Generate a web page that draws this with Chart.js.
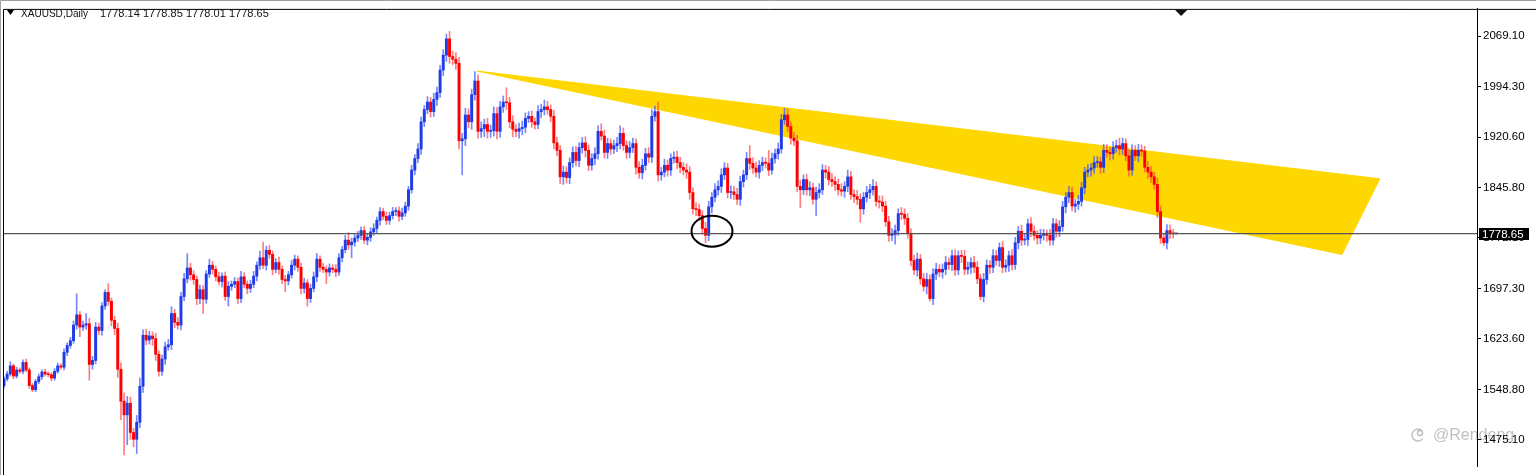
<!DOCTYPE html>
<html>
<head>
<meta charset="utf-8">
<script src="https://cdn.jsdelivr.net/npm/chart.js@4.4.0/dist/chart.umd.min.js"></script>
<style>
html, body { margin: 0; padding: 0; background: #fff; }
#wrap { width: 1536px; height: 475px; position: relative; }
</style>
</head>
<body>
<div id="wrap"><canvas id="chart"></canvas></div>
<script>
// XAUUSD daily
var symbol = 'XAUUSD,Daily';
var lastQuote = [1778.14, 1778.85, 1778.01, 1778.65];
var firstOpen = 1555;

var closes = [
  1565,1572,1584,1569,1578,1576,1589,1578,1555,1549,
  1561,1568,1575,1572,1571,1566,1576,1584,1582,1604,
  1614,1621,1644,1659,1641,1644,1646,1586,1592,1641,
  1636,1672,1692,1679,1651,1639,1579,1532,1512,1529,
  1486,1476,1501,1554,1629,1622,1628,1624,1601,1576,
  1594,1612,1615,1661,1648,1644,1686,1712,1728,1718,
  1711,1683,1696,1682,1719,1732,1726,1715,1708,1716,
  1686,1701,1704,1708,1683,1715,1704,1698,1704,1716,
  1732,1743,1732,1754,1748,1726,1736,1726,1711,1709,
  1718,1732,1741,1729,1698,1706,1683,1698,1715,1741,
  1729,1726,1722,1728,1726,1722,1743,1755,1769,1762,
  1766,1772,1776,1783,1769,1773,1781,1786,1798,1811,
  1804,1798,1805,1811,1812,1804,1809,1819,1843,1872,
  1889,1903,1943,1961,1972,1958,1976,1986,2019,2041,
  2065,2039,2035,2029,1915,1918,1953,1943,1983,2003,
  1929,1933,1939,1929,1930,1955,1929,1965,1972,1971,
  1943,1932,1929,1933,1935,1948,1951,1943,1939,1958,
  1961,1965,1961,1951,1912,1901,1862,1869,1861,1883,
  1898,1886,1905,1912,1901,1879,1889,1896,1929,1922,
  1898,1911,1903,1908,1911,1926,1908,1898,1905,1911,
  1876,1868,1879,1896,1891,1951,1958,1865,1869,1879,
  1872,1889,1891,1883,1876,1872,1869,1839,1815,1814,
  1805,1786,1776,1818,1832,1843,1848,1865,1875,1839,
  1840,1836,1829,1855,1865,1889,1882,1875,1869,1879,
  1883,1882,1872,1889,1896,1903,1946,1953,1936,1919,
  1915,1848,1843,1858,1843,1846,1829,1839,1843,1872,
  1869,1858,1855,1851,1843,1841,1848,1862,1836,1833,
  1829,1815,1832,1839,1843,1848,1826,1825,1819,1796,
  1776,1777,1783,1808,1807,1801,1779,1739,1725,1741,
  1712,1701,1711,1683,1719,1726,1722,1726,1736,1733,
  1746,1725,1746,1745,1726,1729,1736,1729,1712,1686,
  1711,1732,1729,1746,1739,1758,1729,1732,1746,1733,
  1765,1782,1769,1770,1793,1782,1776,1772,1776,1777,
  1776,1769,1793,1782,1789,1818,1832,1839,1819,1822,
  1826,1846,1869,1872,1875,1883,1884,1876,1901,1898,
  1896,1905,1908,1903,1911,1893,1872,1901,1893,1901,
  1900,1876,1869,1862,1851,1811,1772,1765,1783,1779,
  1778.14,1778.65
];

// distance from the body top to the high
var wickUp = [
  3,4,6,3,4,3,4,5,3,3,
  3,4,3,4,3,3,4,4,3,5,
  4,5,6,31,5,6,15,8,6,7,
  6,5,4,13,5,6,8,9,12,10,
  9,6,10,12,8,9,7,6,8,5,
  6,7,8,10,6,7,6,8,21,7,
  6,5,7,6,5,9,6,5,7,5,
  6,7,5,6,5,8,6,5,6,7,
  5,10,23,6,7,5,6,8,5,6,
  5,7,6,5,6,7,5,6,7,8,
  5,6,5,6,5,7,6,5,7,11,
  6,5,6,5,6,5,6,7,5,6,
  5,6,5,6,5,6,7,6,5,7,
  6,8,7,6,8,7,9,8,7,8,
  7,11,8,10,9,8,10,9,8,14,
  9,10,8,9,8,10,9,8,9,21,
  8,9,7,8,9,8,7,8,6,9,
  8,10,8,7,9,8,7,9,8,7,
  8,9,7,8,9,8,7,9,8,11,
  9,8,7,8,9,11,8,7,9,8,
  7,8,9,8,9,10,8,14,7,9,
  8,7,8,9,8,7,9,8,7,9,
  8,7,9,8,7,9,8,9,8,7,
  9,8,9,8,7,9,19,8,9,7,
  8,7,19,8,7,9,8,10,9,7,
  8,8,9,7,8,9,7,8,9,8,
  7,8,9,7,8,9,7,10,8,7,
  9,8,7,9,8,10,7,8,9,7,
  8,9,8,7,9,8,7,7,8,9,
  7,8,9,7,8,9,7,8,9,7,
  8,9,7,8,9,8,7,9,8,7,
  9,8,7,9,8,7,9,8,7,9,
  8,7,9,8,7,9,8,7,9,8,
  7,9,8,7,9,8,7,9,8,7,
  9,8,7,8,7,9,8,7,9,8,
  7,9,8,11,8,7,9,8,7,9,
  8,7,9,8,7,9,8,7,9,8,
  6,0.2
];

// distance from the body bottom to the low
var wickDown = [
  4,3,3,4,3,3,4,3,4,3,
  3,3,4,3,3,4,3,3,3,4,
  5,4,4,6,14,5,6,23,7,5,
  6,7,5,6,8,9,12,27,59,44,
  10,11,21,8,9,7,6,10,9,7,
  6,8,5,7,8,6,7,6,6,8,
  7,9,8,21,6,5,7,6,5,8,
  6,14,6,5,7,6,5,8,6,5,
  7,6,5,7,6,8,5,7,6,16,
  6,5,7,6,8,7,11,6,5,7,
  6,5,17,6,5,7,5,6,5,7,
  19,6,5,6,5,7,6,5,6,7,
  5,6,6,5,6,7,5,5,6,5,
  7,6,8,7,6,8,7,9,7,8,
  9,10,8,9,12,50,10,9,11,8,
  10,9,12,10,9,8,11,9,8,10,
  9,11,8,10,9,8,6,8,7,6,
  9,8,7,8,9,8,10,11,8,9,
  7,8,9,8,10,8,7,9,8,6,
  8,9,8,7,9,8,7,9,8,7,
  10,8,9,7,8,8,7,9,8,7,
  9,8,7,9,8,7,9,10,8,9,
  7,8,11,8,9,7,8,9,7,8,
  9,7,8,9,8,7,9,8,7,9,
  8,7,8,6,7,8,6,7,8,9,
  7,8,26,7,8,9,7,24,8,7,
  9,8,7,9,8,7,9,8,7,9,
  8,20,8,7,9,8,7,9,8,7,
  9,8,14,7,8,9,7,8,7,9,
  8,7,11,4,9,8,7,9,8,7,
  9,8,7,9,8,7,9,8,7,5,
  8,7,9,8,7,9,8,7,9,8,
  7,9,8,7,9,8,7,9,8,7,
  9,8,7,9,8,7,9,8,7,9,
  8,7,9,7,9,8,7,9,8,7,
  9,8,7,9,8,7,9,8,7,9,
  8,7,9,8,7,9,8,4,9,8,
  6,0.13
];

var priceTicks = [2069.10, 1994.30, 1920.60, 1845.80, 1772.10, 1697.30, 1623.60, 1548.80, 1475.10];
var priceRange = [1436.55, 2109.08];
var barRange = [-0.316, 466.14];

// drawn objects: triangle corners [bar, price], marked low [bar, price]
var triangleBars = [149.7, 435.4, 423.4];
var trianglePrices = [2017.7, 1859.2, 1747.8];
var markedLow = [224.05, 1782.1];
var watermark = '@Rendeng';

var opens = closes.map(function (c, i) { return i === 0 ? firstOpen : closes[i - 1]; });
var bodies = [], wicks = [], bodyColors = [], wickColors = [];
for (var i = 0; i < closes.length; i++) {
  var o = opens[i], c = closes[i];
  var up = c >= o;
  bodies.push({ x: i, y: [o, c] });
  wicks.push({ x: i, y: [Math.min(o, c) - wickDown[i], Math.max(o, c) + wickUp[i]] });
  bodyColors.push(up ? '#1f3ce6' : '#ff0000');
  wickColors.push(up ? 'rgba(70,95,255,0.75)' : 'rgba(255,70,70,0.7)');
}
var tri = [];
for (var k = 0; k < triangleBars.length; k++) tri.push({ x: triangleBars[k], y: trianglePrices[k] });
tri.push({ x: triangleBars[0], y: trianglePrices[0] });
var bidLine = [{ x: barRange[0], y: lastQuote[3] }, { x: barRange[1], y: lastQuote[3] }];

var FONT = '"Liberation Sans", Arial, sans-serif';

var decor = {
  id: 'decor',
  beforeDraw: function (chart) {
    var ctx = chart.ctx, a = chart.chartArea;
    ctx.save();
    ctx.fillStyle = '#fff';
    ctx.fillRect(0, 0, chart.width, chart.height);
    // watermark
    ctx.strokeStyle = 'rgba(150,150,150,0.6)';
    ctx.lineWidth = 1.5;
    ctx.beginPath();
    ctx.arc(a.right - 59, a.bottom - 31, 6, 0.2 * Math.PI, 1.7 * Math.PI);
    ctx.stroke();
    ctx.beginPath();
    ctx.arc(a.right - 57, a.bottom - 33, 2.5, 0, 2 * Math.PI);
    ctx.stroke();
    ctx.fillStyle = 'rgba(150,150,150,0.6)';
    ctx.font = '16px ' + FONT;
    ctx.textBaseline = 'middle';
    ctx.fillText(watermark, a.right - 44, a.bottom - 31);
    ctx.restore();
  },
  afterDatasetsDraw: function (chart) {
    var ctx = chart.ctx, xs = chart.scales.x, ys = chart.scales.y;
    ctx.save();
    ctx.strokeStyle = '#000';
    ctx.lineWidth = 2;
    ctx.beginPath();
    ctx.ellipse(xs.getPixelForValue(markedLow[0]), ys.getPixelForValue(markedLow[1]), 20.5, 15.5, 0, 0, 2 * Math.PI);
    ctx.stroke();
    ctx.restore();
  },
  afterDraw: function (chart) {
    var ctx = chart.ctx, a = chart.chartArea, xs = chart.scales.x, ys = chart.scales.y;
    ctx.save();
    // frame
    ctx.strokeStyle = '#000';
    ctx.lineWidth = 1;
    ctx.beginPath();
    ctx.moveTo(a.left + 0.5, chart.height);
    ctx.lineTo(a.left + 0.5, a.top + 0.5);
    ctx.lineTo(chart.width, a.top + 0.5);
    ctx.stroke();
    ctx.strokeStyle = '#a0a0a0';
    ctx.beginPath();
    ctx.moveTo(0.5, chart.height);
    ctx.lineTo(0.5, 0.5);
    ctx.lineTo(chart.width, 0.5);
    ctx.stroke();
    // header
    ctx.fillStyle = '#000';
    ctx.beginPath();
    ctx.moveTo(7, 10);
    ctx.lineTo(14, 10);
    ctx.lineTo(10.5, 15);
    ctx.closePath();
    ctx.fill();
    ctx.fillStyle = '#111';
    ctx.font = '11px ' + FONT;
    ctx.textBaseline = 'alphabetic';
    ctx.fillText(symbol, 21, 17, 67);
    for (var q = 0; q < lastQuote.length; q++) {
      ctx.fillText(lastQuote[q].toFixed(2), 100 + q * 43, 17);
    }
    // chart shift marker
    var sx = xs.getPixelForValue(closes.length + 0.5);
    ctx.beginPath();
    ctx.moveTo(sx - 6, a.top + 1);
    ctx.lineTo(sx + 6, a.top + 1);
    ctx.lineTo(sx, a.top + 7);
    ctx.closePath();
    ctx.fill();
    // bid price label
    var py = Math.round(ys.getPixelForValue(lastQuote[3]));
    ctx.fillStyle = '#000';
    ctx.fillRect(a.right + 2, py - 6, 50, 12);
    ctx.fillStyle = '#fff';
    ctx.font = '11.5px ' + FONT;
    ctx.textBaseline = 'middle';
    ctx.fillText(lastQuote[3].toFixed(2), a.right + 5, py + 0.5);
    ctx.restore();
  }
};

new Chart(document.getElementById('chart'), {
  type: 'bar',
  data: {
    datasets: [
      {
        type: 'line', data: bidLine, borderColor: '#555', borderWidth: 1.2,
        pointRadius: 0, fill: false, order: 0
      },
      {
        data: bodies, backgroundColor: bodyColors, borderWidth: 0,
        barThickness: 2.3, minBarLength: 1, grouped: false, order: 1
      },
      {
        data: wicks, backgroundColor: wickColors, borderWidth: 0,
        barThickness: 1, grouped: false, order: 2
      },
      {
        type: 'line', data: tri, borderColor: '#ffd700', backgroundColor: '#ffd700',
        borderWidth: 1, pointRadius: 0, fill: 'shape', tension: 0, order: 3
      }
    ]
  },
  options: {
    responsive: true,
    maintainAspectRatio: false,
    devicePixelRatio: 1,
    animation: false,
    events: [],
    layout: { padding: { left: 3, top: 4, right: 0, bottom: 0 } },
    plugins: { legend: { display: false }, tooltip: { enabled: false } },
    scales: {
      x: {
        type: 'linear', min: barRange[0], max: barRange[1], offset: false,
        display: false
      },
      y: {
        position: 'right', min: priceRange[0], max: priceRange[1],
        afterBuildTicks: function (s) {
          s.ticks = priceTicks.map(function (v) { return { value: v }; });
        },
        afterFit: function (s) { s.width = 59; },
        grid: { drawOnChartArea: false, drawTicks: true, tickLength: 4, color: '#000' },
        border: { display: true, color: '#000', width: 1 },
        ticks: {
          color: '#000', padding: 2, font: { family: 'Liberation Sans', size: 11.5 },
          callback: function (v) { return Number(v).toFixed(2); }
        }
      }
    }
  },
  plugins: [decor]
});
</script>
</body>
</html>
